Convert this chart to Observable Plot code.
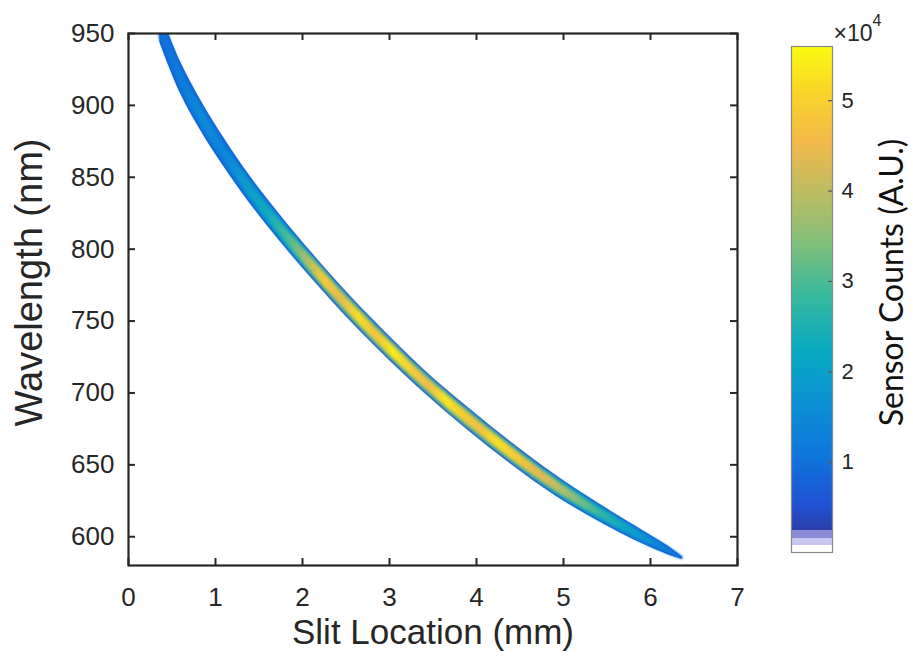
<!DOCTYPE html>
<html>
<head>
<meta charset="utf-8">
<script src="https://cdn.jsdelivr.net/npm/d3@7"></script>
<script src="https://cdn.jsdelivr.net/npm/@observablehq/plot@0.6"></script>
<style>
  html, body { margin: 0; padding: 0; background: #fff; }
  #wrap { position: relative; width: 913px; height: 662px; overflow: hidden; }
  #wrap svg { position: absolute; top: 0; }
</style>
</head>
<body>
<div id="wrap"></div>
<script>
// ---------------- data ----------------
// centre line of the spectral band
const slitX      = [0.36, 0.60, 0.85, 1.10, 1.40, 1.75, 2.10, 2.50, 2.90, 3.40, 3.90, 4.40, 4.90, 5.40, 5.90, 6.20, 6.37];
const wavelength = [955, 919, 891, 867, 841, 814, 789, 762, 737, 708, 682, 658, 636, 617, 600, 590.5, 585];
// vertical spread of the band (nm)
const spreadNm   = [22, 22, 21, 20, 19, 18.5, 18, 17.5, 17, 16, 16, 15.5, 14.5, 12.5, 9.5, 6, 1.5];

// intensity along the band (x 10^4 counts)
const profileX       = [0.36, 0.60, 0.85, 1.10, 1.35, 1.60, 1.85, 2.05, 2.25, 2.45, 2.65, 2.85, 3.05, 3.25, 3.45, 3.65, 3.85, 4.05, 4.25, 4.45, 4.65, 4.85, 5.05, 5.25, 5.45, 5.65, 5.85, 6.05, 6.25, 6.37];
const peakCounts     = [1.0, 1.2, 1.5, 1.4, 1.9, 2.3, 3.0, 3.8, 4.9, 4.4, 5.2, 4.7, 5.4, 4.9, 4.6, 5.3, 4.9, 4.7, 5.2, 4.9, 4.5, 4.2, 3.7, 3.2, 2.7, 2.3, 1.9, 1.5, 1.1, 0.9];
const shoulderCounts = [0.9, 1.0, 1.2, 1.1, 1.4, 1.6, 2.2, 2.8, 3.3, 3.2, 3.4, 3.3, 3.5, 3.3, 3.2, 3.4, 3.3, 3.2, 3.3, 3.2, 3.0, 2.8, 2.5, 2.2, 1.9, 1.7, 1.5, 1.2, 1.0, 0.9];
const edgeCounts = 0.75;

// axes
const xTicks = [0, 1, 2, 3, 4, 5, 6, 7];
const yTicks = [600, 650, 700, 750, 800, 850, 900, 950];
const cbTicks = [1, 2, 3, 4, 5];
const cbMax = 5.6;

// ---------------- colour map (parula) ----------------
const parulaStops = ["#352a87", "#2053d4", "#0d75dc", "#0c93d2", "#07a9c2", "#38b99e", "#7cbf7b", "#b7bd64", "#f1b94a", "#fad32a", "#f9fb0e"];
const parulaPos = [0, 6, 12, 19, 25, 32, 38, 44, 51, 57, 63].map(i => i / 63);
const parulaScale = d3.scaleLinear().domain(parulaPos).range(parulaStops).interpolate(d3.interpolateRgb).clamp(true);
const parula = t => parulaScale(t);
const cbInterp = t => {
  const v = t * cbMax;
  if (v < 0.08) return "#ffffff";
  if (v < 0.155) return "#c6c6ee";
  if (v < 0.245) return "#8a8bd5";
  return parulaScale(t);
};
const colorScale = Plot.scale({color: {type: "linear", domain: [0, cbMax], interpolate: parula}});

// ---------------- band table ----------------
const MID = 0.78, CORE = 0.48;
const band = slitX.map((x, i) => ({
  x,
  lo: wavelength[i] - spreadNm[i] / 2, hi: wavelength[i] + spreadNm[i] / 2,
  lo2: wavelength[i] - spreadNm[i] * MID / 2, hi2: wavelength[i] + spreadNm[i] * MID / 2,
  lo3: wavelength[i] - spreadNm[i] * CORE / 2, hi3: wavelength[i] + spreadNm[i] * CORE / 2
}));

const W = 913, H = 662;
const mL = 128, mR = 176, mT = 33, mB = 97;
const plotW = W - mL - mR, plotH = H - mT - mB;
const ink = "#262626";
const sans = "'Liberation Sans', Arial, Helvetica, sans-serif";

const main = Plot.plot({
  width: W, height: H,
  marginLeft: mL, marginRight: mR, marginTop: mT, marginBottom: mB,
  style: {fontFamily: sans, background: "#fff", color: ink},
  x: {domain: [0, 7]},
  y: {domain: [580, 950]},
  marks: [
    Plot.areaY(band, {x: "x", y1: "lo", y2: "hi", curve: "catmull-rom", fill: colorScale.apply(edgeCounts), clip: true}),
    Plot.areaY(band, {x: "x", y1: "lo2", y2: "hi2", curve: "catmull-rom", fill: "url(#gShoulder)", clip: true}),
    Plot.areaY(band, {x: "x", y1: "lo3", y2: "hi3", curve: "catmull-rom", fill: "url(#gPeak)", clip: true}),
    Plot.tickX(xTicks, {x: d => d, stroke: ink, strokeWidth: 2, insetTop: plotH - 7}),
    Plot.tickX(xTicks, {x: d => d, stroke: ink, strokeWidth: 2, insetBottom: plotH - 7}),
    Plot.tickY(yTicks, {y: d => d, stroke: ink, strokeWidth: 2, insetRight: plotW - 7}),
    Plot.tickY(yTicks, {y: d => d, stroke: ink, strokeWidth: 2, insetLeft: plotW - 7}),
    Plot.frame({stroke: ink, strokeWidth: 2.2}),
    Plot.axisX(xTicks, {tickSize: 0, tickPadding: 22, fontSize: 26, fill: ink, label: null}),
    Plot.axisY(yTicks, {tickSize: 0, tickPadding: 14, fontSize: 26, fill: ink, label: null}),
    Plot.text(["Slit Location (mm)"], {frameAnchor: "bottom", dy: 78, textAnchor: "middle", fontSize: 35, fill: ink}),
    Plot.text(["Wavelength (nm)"], {frameAnchor: "left", dx: -99, dy: -17, textAnchor: "middle", rotate: -90, fontSize: 38, fill: ink})
  ]
});

// gradients along the band
const xs = main.scale("x");
const svgSel = d3.select(main);
const defs = svgSel.insert("defs", ":first-child");
function addGradient(id, xv, vals) {
  const x0 = xs.apply(xv[0]), x1 = xs.apply(xv[xv.length - 1]);
  const g = defs.append("linearGradient").attr("id", id)
    .attr("gradientUnits", "userSpaceOnUse")
    .attr("x1", x0).attr("x2", x1).attr("y1", 0).attr("y2", 0);
  xv.forEach((x, i) => g.append("stop")
    .attr("offset", (xs.apply(x) - x0) / (x1 - x0))
    .attr("stop-color", colorScale.apply(vals[i])));
}
addGradient("gShoulder", profileX, shoulderCounts);
addGradient("gPeak", profileX, peakCounts);
const blurs = [0.6, 1.8, 1.6];
blurs.forEach((s, i) => defs.append("filter").attr("id", "soft" + i)
  .attr("x", "-20%").attr("y", "-20%").attr("width", "140%").attr("height", "140%")
  .append("feGaussianBlur").attr("stdDeviation", s));
svgSel.selectAll("g[aria-label='area'] path").each(function(_, i) {
  if (i < blurs.length) this.setAttribute("filter", "url(#soft" + i + ")");
});

// ---------------- colour bar ----------------
const cbLevels = d3.range(0, cbMax, 0.01);
const cbLeft = 760;
const cb = Plot.plot({
  width: W - cbLeft, height: H,
  marginLeft: 31, marginRight: W - cbLeft - 72, marginTop: 46, marginBottom: H - 552,
  style: {fontFamily: sans, background: "transparent", color: ink, overflow: "visible"},
  x: {domain: [0, 1], axis: null},
  y: {domain: [0, cbMax], axis: null},
  color: {type: "linear", domain: [0, cbMax], interpolate: cbInterp},
  marks: [
    Plot.rectY(cbLevels, {x1: 0, x2: 1, y1: d => d, y2: d => Math.min(cbMax, d + 0.02), fill: d => d + 0.005, shapeRendering: "crispEdges"}),
    Plot.frame({stroke: "#8a8a8a", strokeWidth: 1.2}),
    Plot.tickY(cbTicks, {y: d => d, stroke: "#555", strokeWidth: 1.2, insetLeft: 37}),
    Plot.axisY(cbTicks, {anchor: "right", tickSize: 0, tickPadding: 9, fontSize: 22, fill: ink, label: null, tickFormat: d => String(d)}),
    Plot.text(["\u00d710"], {frameAnchor: "top-left", dx: 42, dy: -22, textAnchor: "start", fontSize: 23, fill: ink}),
    Plot.text(["4"], {frameAnchor: "top-left", dx: 81, dy: -32, textAnchor: "start", fontSize: 16, fill: ink}),
    Plot.text(["Sensor Counts (A.U.)"], {frameAnchor: "right", dx: 60, dy: -17, textAnchor: "middle", rotate: -90, fontSize: 32, fontFamily: "Lato, 'Open Sans', sans-serif", fill: "#111"})
  ]
});
cb.style.left = cbLeft + "px";

const wrap = document.getElementById("wrap");
main.style.left = "0px";
wrap.appendChild(main);
wrap.appendChild(cb);
</script>
</body>
</html>
